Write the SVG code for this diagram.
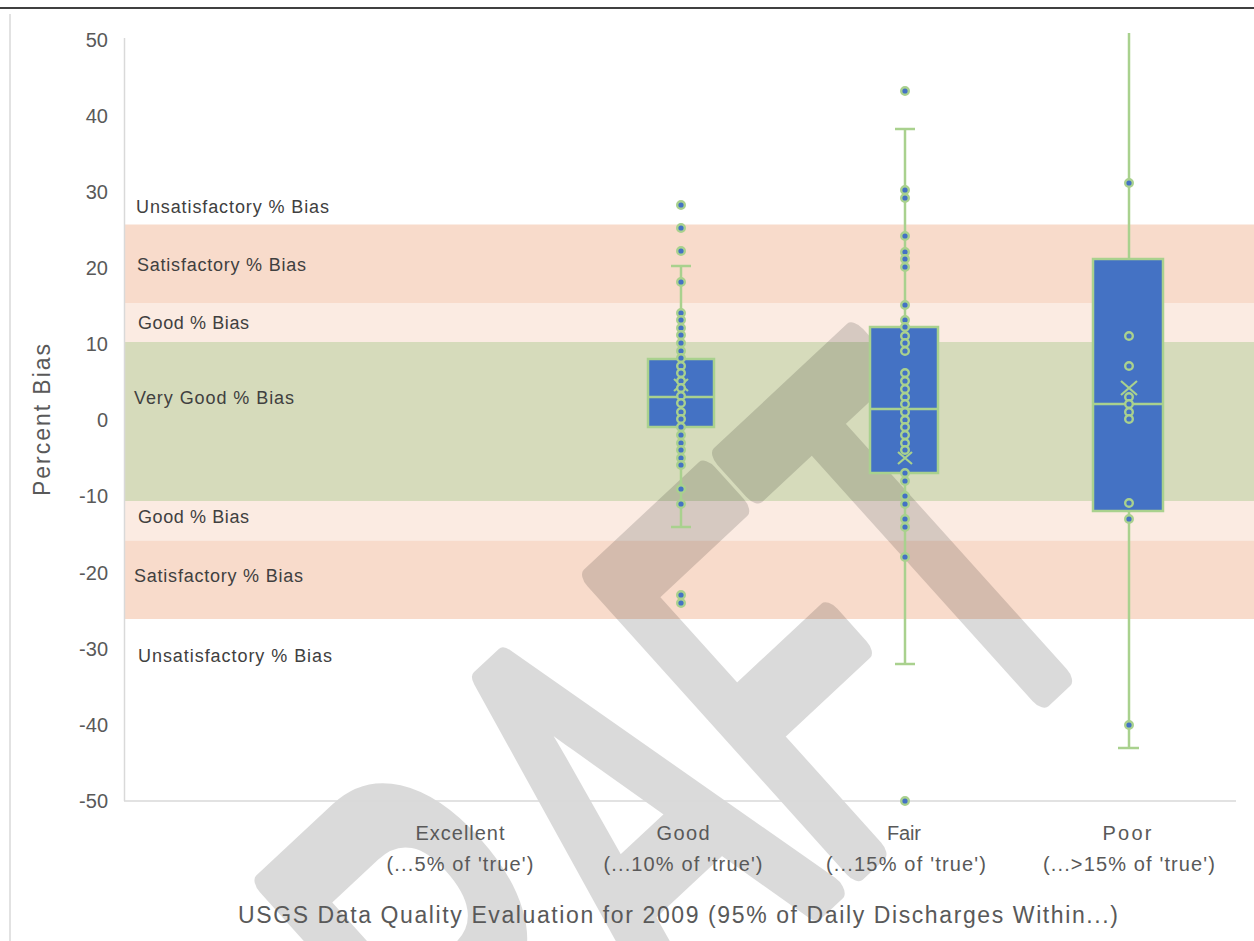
<svg xmlns="http://www.w3.org/2000/svg" width="1254" height="941" viewBox="0 0 1254 941">
  <style>
    .band-label { font-family: "Liberation Sans", Arial, sans-serif; font-size: 18px; fill: #404040; }
    .tick { font-family: "Liberation Sans", Arial, sans-serif; font-size: 20px; fill: #595959; text-anchor: end; }
    .cat { font-family: "Liberation Sans", Arial, sans-serif; font-size: 20px; fill: #595959; text-anchor: middle; }
    .axis-title { font-family: "Liberation Sans", Arial, sans-serif; font-size: 23px; fill: #595959; text-anchor: middle; }
    .axis { stroke: #D9D9D9; stroke-width: 1.5; fill: none; }
    .box { fill: #4472C4; stroke: #A9D18E; stroke-width: 2.5; }
    .whisker { stroke: #A9D18E; stroke-width: 2.5; fill: none; }
    .median { stroke: #A9D18E; stroke-width: 2.5; }
    .mean { stroke: #A9D18E; stroke-width: 2.2; fill: none; }
    .pt { fill: #4472C4; stroke: #A9D18E; stroke-width: 2.4; }
    .sat { fill: #F8DBCB; }
    .good { fill: #FBEBE2; }
    .vgood { fill: #D6DBBB; }
  </style>

  <rect x="0" y="0" width="1254" height="941" fill="#FFFFFF"/>

  <!-- page header rule -->
  <line x1="0" y1="8" x2="1254" y2="8" stroke="#000000" stroke-width="1.5"/>
  <!-- chart frame, left edge -->
  <line x1="10" y1="14" x2="10" y2="941" stroke="#D9D9D9" stroke-width="1.5"/>

  <!-- rating bands -->
  <g id="bands">
    <rect class="sat" x="125" y="224.5" width="1129" height="78.5"/>
    <rect class="good" x="125" y="303" width="1129" height="39"/>
    <rect class="vgood" x="125" y="342" width="1129" height="159"/>
    <rect class="good" x="125" y="501" width="1129" height="39.5"/>
    <rect class="sat" x="125" y="540.5" width="1129" height="78.5"/>
  </g>

  <!-- DRAFT watermark (rotated and stretched) -->
  <g id="watermark" opacity="0.14">
    <text x="0" y="0" transform="matrix(0.393,-0.367,0.628,0.698,335.7,1351.7)" font-family="Liberation Sans, Arial, sans-serif" font-size="600" fill="#000000" stroke="#000000" stroke-width="24" stroke-linejoin="round" vector-effect="non-scaling-stroke">DRAFT</text>
  </g>

  <!-- band captions -->
  <g id="band-labels">
    <text class="band-label" x="136" y="213" textLength="193">Unsatisfactory % Bias</text>
    <text class="band-label" x="137" y="271" textLength="169">Satisfactory % Bias</text>
    <text class="band-label" x="138" y="329" textLength="111">Good % Bias</text>
    <text class="band-label" x="134" y="404" textLength="160">Very Good % Bias</text>
    <text class="band-label" x="138" y="523" textLength="111">Good % Bias</text>
    <text class="band-label" x="134" y="582" textLength="169">Satisfactory % Bias</text>
    <text class="band-label" x="138" y="662" textLength="194">Unsatisfactory % Bias</text>
  </g>

  <!-- axes -->
  <g id="axes">
    <line class="axis" x1="124.5" y1="38" x2="124.5" y2="801"/>
    <line class="axis" x1="124" y1="801" x2="1236" y2="801"/>
    <text class="tick" x="108" y="47">50</text>
    <text class="tick" x="108" y="123">40</text>
    <text class="tick" x="108" y="199">30</text>
    <text class="tick" x="108" y="275">20</text>
    <text class="tick" x="108" y="351">10</text>
    <text class="tick" x="108" y="427">0</text>
    <text class="tick" x="108" y="503">-10</text>
    <text class="tick" x="108" y="580">-20</text>
    <text class="tick" x="108" y="656">-30</text>
    <text class="tick" x="108" y="732">-40</text>
    <text class="tick" x="108" y="808">-50</text>
    <text class="axis-title" transform="translate(50,420) rotate(-90)" font-size="25" textLength="152">Percent Bias</text>

    <text class="cat" x="460" y="840" textLength="89">Excellent</text>
    <text class="cat" x="460" y="871" textLength="147">(...5% of 'true')</text>
    <text class="cat" x="683" y="840" textLength="53">Good</text>
    <text class="cat" x="683" y="871" textLength="159">(...10% of 'true')</text>
    <text class="cat" x="904" y="840" textLength="34">Fair</text>
    <text class="cat" x="906" y="871" textLength="160">(...15% of 'true')</text>
    <text class="cat" x="1127" y="840" textLength="49">Poor</text>
    <text class="cat" x="1129" y="871" textLength="172">(...&gt;15% of 'true')</text>

    <text class="axis-title" x="678" y="923" textLength="880">USGS Data Quality Evaluation for 2009 (95% of Daily Discharges Within...)</text>
  </g>

  <!-- box plot: Good -->
  <g id="box-good">
    <line class="whisker" x1="681" y1="266" x2="681" y2="359"/>
    <line class="whisker" x1="671" y1="266" x2="691" y2="266"/>
    <line class="whisker" x1="681" y1="427" x2="681" y2="527"/>
    <line class="whisker" x1="671" y1="527" x2="691" y2="527"/>
    <rect class="box" x="648" y="359" width="66" height="68"/>
    <line class="median" x1="648" y1="397" x2="714" y2="397"/>
    <path class="mean" d="M674 379 L688 391 M688 379 L674 391"/>
    <g>
      <circle class="pt" cx="681" cy="205" r="3.8"/>
      <circle class="pt" cx="681" cy="228" r="3.8"/>
      <circle class="pt" cx="681" cy="251" r="3.8"/>
      <circle class="pt" cx="681" cy="282" r="3.8"/>
      <circle class="pt" cx="681" cy="313" r="3.8"/>
      <circle class="pt" cx="681" cy="320" r="3.8"/>
      <circle class="pt" cx="681" cy="328" r="3.8"/>
      <circle class="pt" cx="681" cy="335" r="3.8"/>
      <circle class="pt" cx="681" cy="343" r="3.8"/>
      <circle class="pt" cx="681" cy="351" r="3.8"/>
      <circle class="pt" cx="681" cy="358" r="3.8"/>
      <circle class="pt" cx="681" cy="366" r="3.8"/>
      <circle class="pt" cx="681" cy="373" r="3.8"/>
      <circle class="pt" cx="681" cy="381" r="3.8"/>
      <circle class="pt" cx="681" cy="388" r="3.8"/>
      <circle class="pt" cx="681" cy="396" r="3.8"/>
      <circle class="pt" cx="681" cy="403" r="3.8"/>
      <circle class="pt" cx="681" cy="412" r="3.8"/>
      <circle class="pt" cx="681" cy="419" r="3.8"/>
      <circle class="pt" cx="681" cy="427" r="3.8"/>
      <circle class="pt" cx="681" cy="435" r="3.8"/>
      <circle class="pt" cx="681" cy="443" r="3.8"/>
      <circle class="pt" cx="681" cy="450" r="3.8"/>
      <circle class="pt" cx="681" cy="458" r="3.8"/>
      <circle class="pt" cx="681" cy="465" r="3.8"/>
      <circle class="pt" cx="681" cy="489" r="3.8"/>
      <circle class="pt" cx="681" cy="504" r="3.8"/>
      <circle class="pt" cx="681" cy="595" r="3.8"/>
      <circle class="pt" cx="681" cy="603" r="3.8"/>
    </g>
  </g>

  <!-- box plot: Fair -->
  <g id="box-fair">
    <line class="whisker" x1="905" y1="129" x2="905" y2="327"/>
    <line class="whisker" x1="895" y1="129" x2="915" y2="129"/>
    <line class="whisker" x1="905" y1="473" x2="905" y2="664"/>
    <line class="whisker" x1="895" y1="664" x2="915" y2="664"/>
    <rect class="box" x="870" y="327" width="68" height="146"/>
    <line class="median" x1="870" y1="409" x2="938" y2="409"/>
    <path class="mean" d="M898 452 L912 464 M912 452 L898 464"/>
    <g>
      <circle class="pt" cx="905" cy="91" r="3.8"/>
      <circle class="pt" cx="905" cy="190" r="3.8"/>
      <circle class="pt" cx="905" cy="198" r="3.8"/>
      <circle class="pt" cx="905" cy="236" r="3.8"/>
      <circle class="pt" cx="905" cy="252" r="3.8"/>
      <circle class="pt" cx="905" cy="259" r="3.8"/>
      <circle class="pt" cx="905" cy="267" r="3.8"/>
      <circle class="pt" cx="905" cy="305" r="3.8"/>
      <circle class="pt" cx="905" cy="320" r="3.8"/>
      <circle class="pt" cx="905" cy="327" r="3.8"/>
      <circle class="pt" cx="905" cy="336" r="3.8"/>
      <circle class="pt" cx="905" cy="343" r="3.8"/>
      <circle class="pt" cx="905" cy="351" r="3.8"/>
      <circle class="pt" cx="905" cy="373" r="3.8"/>
      <circle class="pt" cx="905" cy="381" r="3.8"/>
      <circle class="pt" cx="905" cy="389" r="3.8"/>
      <circle class="pt" cx="905" cy="397" r="3.8"/>
      <circle class="pt" cx="905" cy="404" r="3.8"/>
      <circle class="pt" cx="905" cy="412" r="3.8"/>
      <circle class="pt" cx="905" cy="420" r="3.8"/>
      <circle class="pt" cx="905" cy="427" r="3.8"/>
      <circle class="pt" cx="905" cy="435" r="3.8"/>
      <circle class="pt" cx="905" cy="443" r="3.8"/>
      <circle class="pt" cx="905" cy="450" r="3.8"/>
      <circle class="pt" cx="905" cy="473" r="3.8"/>
      <circle class="pt" cx="905" cy="481" r="3.8"/>
      <circle class="pt" cx="905" cy="496" r="3.8"/>
      <circle class="pt" cx="905" cy="504" r="3.8"/>
      <circle class="pt" cx="905" cy="519" r="3.8"/>
      <circle class="pt" cx="905" cy="527" r="3.8"/>
      <circle class="pt" cx="905" cy="557" r="3.8"/>
      <circle class="pt" cx="905" cy="801" r="3.8"/>
    </g>
  </g>

  <!-- box plot: Poor -->
  <g id="box-poor">
    <line class="whisker" x1="1129" y1="33" x2="1129" y2="259"/>
    <line class="whisker" x1="1129" y1="511" x2="1129" y2="748"/>
    <line class="whisker" x1="1118" y1="748" x2="1139" y2="748"/>
    <rect class="box" x="1093" y="259" width="70" height="252"/>
    <line class="median" x1="1093" y1="404" x2="1163" y2="404"/>
    <path class="mean" d="M1121 381 L1137 395 M1137 381 L1121 395"/>
    <g>
      <circle class="pt" cx="1129" cy="183" r="3.8"/>
      <circle class="pt" cx="1129" cy="336" r="3.8"/>
      <circle class="pt" cx="1129" cy="366" r="3.8"/>
      <circle class="pt" cx="1129" cy="397" r="3.8"/>
      <circle class="pt" cx="1129" cy="404" r="3.8"/>
      <circle class="pt" cx="1129" cy="412" r="3.8"/>
      <circle class="pt" cx="1129" cy="419" r="3.8"/>
      <circle class="pt" cx="1129" cy="503" r="3.8"/>
      <circle class="pt" cx="1129" cy="519" r="3.8"/>
      <circle class="pt" cx="1129" cy="725" r="3.8"/>
    </g>
  </g>
</svg>
